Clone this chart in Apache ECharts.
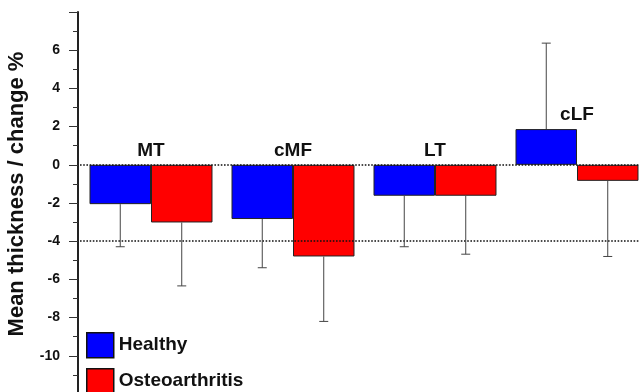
<!DOCTYPE html>
<html>
<head>
<meta charset="utf-8">
<script src="https://cdn.jsdelivr.net/npm/echarts@6/dist/echarts.min.js"></script>
<style>html,body{margin:0;padding:0;background:#fff;}#c{width:639px;height:392px;}</style>
</head>
<body>
<div id="c"></div>
<script>
const categories = ['MT', 'cMF', 'LT', 'cLF'];
const healthy = [-2.06, -2.84, -1.62, 1.87];
const osteoarthritis = [-3.02, -4.8, -1.62, -0.84];
const healthyErrEnd = [-4.29, -5.39, -4.29, 6.37];
const osteoErrEnd = [-6.34, -8.2, -4.68, -4.8];
const refLines = [0, -4];
const seriesNames = ['Healthy', 'Osteoarthritis'];
const yTitle = 'Mean thickness / change %';

const FONT = 'Liberation Sans, Arial, Helvetica, sans-serif';
const CAT_GAP = 0.134;

function errRenderer(side) {
  return function (params, api) {
    const cx0 = api.coord([api.value(0), 0])[0];
    const band = api.size([1, 0])[0];
    const bw = band * (1 - CAT_GAP) / 2;
    const cx = cx0 + side * bw / 2;
    const y1 = api.coord([api.value(0), api.value(1)])[1];
    const y2 = api.coord([api.value(0), api.value(2)])[1];
    const st = { stroke: '#444', lineWidth: 1 };
    return {
      type: 'group',
      children: [
        { type: 'line', shape: { x1: cx, y1: y1, x2: cx, y2: y2 }, style: st },
        { type: 'line', shape: { x1: cx - 4.5, y1: y2, x2: cx + 4.5, y2: y2 }, style: st }
      ]
    };
  };
}

function legendAt(name, top) {
  return {
    orient: 'vertical', left: 86, top: top, padding: 0, itemWidth: 27, itemHeight: 25, itemGap: 7,
    icon: 'rect', data: [name],
    itemStyle: { borderColor: '#111', borderWidth: 1.5 },
    textStyle: { fontFamily: FONT, fontWeight: 'bold', fontSize: 19, color: '#111' }
  };
}

const chart = echarts.init(document.getElementById('c'));
chart.setOption({
  animation: false,
  backgroundColor: '#fff',
  grid: { left: 80, top: 12, width: 568, height: 382, containLabel: false, outerBoundsMode: 'none' },
  legend: [legendAt(seriesNames[0], 332), legendAt(seriesNames[1], 368)],
  xAxis: {
    type: 'category', data: categories,
    axisLine: { show: false }, axisTick: { show: false }, axisLabel: { show: false }, splitLine: { show: false }
  },
  yAxis: {
    type: 'value', min: -12, max: 8, interval: 2, offset: 2,
    axisLine: { show: true, lineStyle: { color: '#222', width: 2 } },
    axisTick: { show: true, length: 9, lineStyle: { color: '#333', width: 1 } },
    minorTick: { show: true, splitNumber: 2, length: 5, lineStyle: { color: '#333', width: 1 } },
    splitLine: { show: false },
    axisLabel: {
      showMaxLabel: false, showMinLabel: false, margin: 18,
      fontFamily: FONT, fontWeight: 'bold', fontSize: 14, color: '#111'
    }
  },
  graphic: [{
    type: 'text', x: 17, y: 194, rotation: Math.PI / 2,
    style: { text: yTitle, fontFamily: FONT, fontWeight: 'bold', fontSize: 22, fill: '#111', align: 'center', verticalAlign: 'middle' }
  }],
  series: [
    {
      name: seriesNames[0], type: 'bar', data: healthy, barGap: '0%', barCategoryGap: (CAT_GAP * 100) + '%',
      itemStyle: { color: '#0000ff', borderColor: '#222', borderWidth: 1 },
      markLine: {
        silent: true, symbol: 'none', label: { show: false },
        lineStyle: { type: 'dotted', color: '#111', width: 1.6 },
        data: refLines.map(v => ({ yAxis: v }))
      }
    },
    {
      name: seriesNames[1], type: 'bar', data: osteoarthritis,
      itemStyle: { color: '#ff0000', borderColor: '#222', borderWidth: 1 }
    },
    {
      type: 'custom', renderItem: errRenderer(-1), z: 5,
      data: categories.map((c, i) => [i, healthy[i], healthyErrEnd[i]])
    },
    {
      type: 'custom', renderItem: errRenderer(1), z: 5,
      data: categories.map((c, i) => [i, osteoarthritis[i], osteoErrEnd[i]])
    },
    {
      type: 'custom', z: 6,
      renderItem: function (params, api) {
        const p = api.coord([api.value(0), api.value(1)]);
        return {
          type: 'text', x: p[0], y: p[1] - 14,
          style: { text: categories[params.dataIndex], fontFamily: FONT, fontWeight: 'bold', fontSize: 19, fill: '#111', align: 'center', verticalAlign: 'middle' }
        };
      },
      data: categories.map((c, i) => [i, Math.max(0, healthy[i], osteoarthritis[i])])
    }
  ]
});
</script>
</body>
</html>
